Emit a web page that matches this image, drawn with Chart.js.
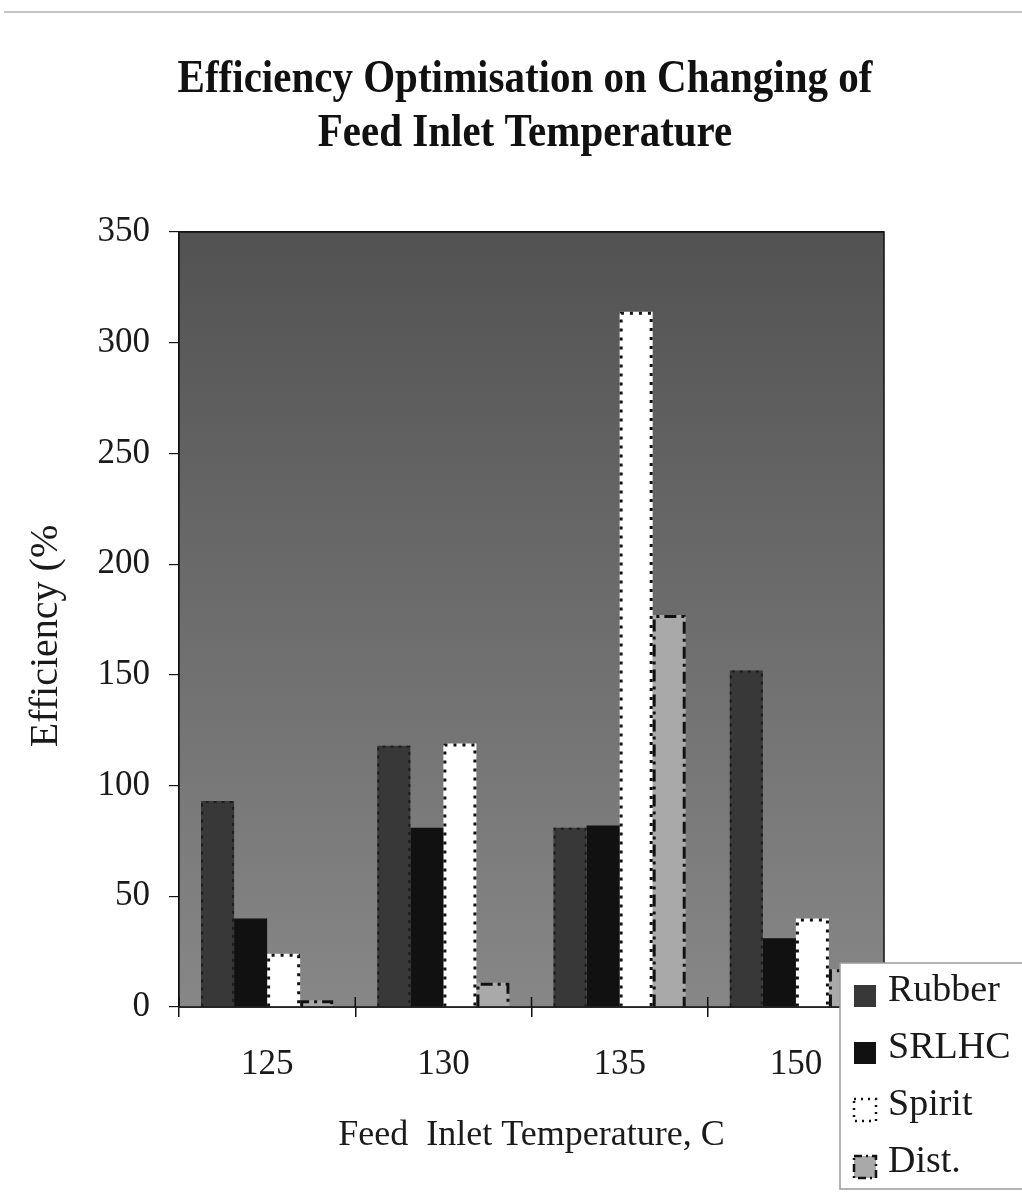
<!DOCTYPE html>
<html>
<head>
<meta charset="utf-8">
<title>Efficiency Optimisation</title>
<script src="https://cdn.jsdelivr.net/npm/chart.js@4.4.1/dist/chart.umd.min.js"></script>
<style>
    html, body {
        margin: 0;
        padding: 0;
        background: #ffffff;
    }
    #wrap {
        position: relative;
        width: 1022px;
        height: 1194px;
    }
    #topRule {
        position: absolute;
        left: 4px;
        right: 0;
        top: 11px;
        height: 0;
        border-top: 2px solid #c4c4c4;
    }
</style>
</head>
<body>
<div id="wrap">
    <div id="topRule"></div>
    <canvas id="effChart"></canvas>
</div>
<script>
const SERIF = "'Liberation Serif', 'Times New Roman', serif";

const titleLines = ["Efficiency Optimisation on Changing of", "Feed Inlet Temperature"];
const yTitle = "Efficiency (%";
const temperatures = ["125", "130", "135", "150"];
const rubber = [93, 118, 81, 152];
const srlhc = [40, 81, 82, 31];
const spirit = [24, 119, 314, 40];
const dist = [3, 11, 177, 17];

const yMax = 350;
const yStep = 50;

// heading is centred on the page, not on the plot, so it is drawn here;
// the y title sits a little below the plot's middle, so it goes here too
const pageText = {
    id: "pageText",
    afterDraw(chart) {
        const { ctx } = chart;
        ctx.save();
        ctx.fillStyle = "#111111";
        ctx.font = "bold 41px " + SERIF;
        ctx.textAlign = "center";
        ctx.textBaseline = "middle";
        titleLines.forEach((line, i) => {
            ctx.save();
            ctx.translate(525, 80 + i * 54);
            ctx.scale(1, 1.12);
            ctx.fillText(line, 0, 0);
            ctx.restore();
        });

        ctx.fillStyle = "#1a1a1a";
        ctx.font = "40px " + SERIF;
        ctx.translate(46, 636);
        ctx.rotate(-Math.PI / 2);
        ctx.fillText(yTitle, 0, 0);
        ctx.restore();
    },
};

// grey wash behind the bars, darker at the top
const plotBackground = {
    id: "plotBackground",
    beforeDatasetsDraw(chart) {
        const { ctx, chartArea: a } = chart;
        const g = ctx.createLinearGradient(0, a.top, 0, a.bottom);
        g.addColorStop(0, "#525252");
        g.addColorStop(0.5, "#6d6d6d");
        g.addColorStop(1, "#878787");
        ctx.save();
        ctx.fillStyle = g;
        ctx.fillRect(a.left, a.top, a.right - a.left, a.bottom - a.top);
        ctx.restore();
    },
};

// dotted / dash-dot outlines, bars can't do dashes on their own
const barOutlines = {
    id: "barOutlines",
    afterDatasetsDraw(chart) {
        const { ctx } = chart;
        chart.data.datasets.forEach((ds, i) => {
            if (!ds.outlineDash) return;
            const meta = chart.getDatasetMeta(i);
            ctx.save();
            ctx.strokeStyle = ds.outlineColor;
            ctx.lineWidth = ds.outlineWidth;
            ctx.setLineDash(ds.outlineDash);
            meta.data.forEach((bar) => {
                const { x, y, base, width } = bar.getProps(["x", "y", "base", "width"], true);
                const half = ds.outlineWidth / 2;
                const l = x - width / 2 + half;
                const r = x + width / 2 - half;
                ctx.beginPath();
                ctx.moveTo(l, base);
                ctx.lineTo(l, y + half);
                ctx.lineTo(r, y + half);
                ctx.lineTo(r, base);
                ctx.stroke();
            });
            ctx.restore();
        });
    },
};

// frame round the plot plus the short category ticks that poke up into it
const plotFrame = {
    id: "plotFrame",
    afterDatasetsDraw(chart) {
        const { ctx, chartArea: a } = chart;
        const xs = chart.scales.x;
        ctx.save();
        ctx.strokeStyle = "#111111";
        ctx.lineWidth = 1.5;
        ctx.strokeRect(a.left, a.top, a.right - a.left, a.bottom - a.top);
        const n = chart.data.labels.length;
        ctx.beginPath();
        for (let i = 0; i <= n; i++) {
            const px = xs.left + (i * xs.width) / n;
            ctx.moveTo(px, a.bottom);
            ctx.lineTo(px, a.bottom - 10);
        }
        ctx.stroke();
        ctx.restore();
    },
};

// legend box sitting over the bottom-right corner
const boxLegend = {
    id: "boxLegend",
    afterDraw(chart) {
        const { ctx } = chart;
        const left = 840;
        const top = 963;
        const rowH = 57;
        ctx.save();
        ctx.fillStyle = "#ffffff";
        ctx.fillRect(left, top, 200, 226);
        ctx.strokeStyle = "#9a9a9a";
        ctx.lineWidth = 1.5;
        ctx.strokeRect(left, top, 200, 226);

        ctx.font = "38px " + SERIF;
        ctx.textBaseline = "middle";
        ctx.textAlign = "left";
        chart.data.datasets.forEach((ds, i) => {
            const cy = top + 28 + i * rowH;
            const mx = left + 14;
            const my = cy - 6;
            const ms = 22;
            ctx.fillStyle = ds.backgroundColor;
            ctx.fillRect(mx, my, ms, ms);
            if (ds.outlineDash && ds.label !== "Rubber") {
                ctx.strokeStyle = ds.outlineColor;
                ctx.lineWidth = 2.5;
                ctx.setLineDash(ds.label === "Spirit" ? [2, 5] : [8, 4, 2, 4]);
                ctx.strokeRect(mx, my, ms, ms);
                ctx.setLineDash([]);
            }
            ctx.fillStyle = "#1a1a1a";
            ctx.fillText(ds.label, left + 48, cy);
        });
        ctx.restore();
    },
};

const chartCanvas = document.getElementById("effChart");

new Chart(chartCanvas, {
    type: "bar",
    data: {
        labels: temperatures,
        datasets: [
            {
                label: "Rubber",
                data: rubber,
                backgroundColor: "#383838",
                outlineColor: "#1c1c1c",
                outlineWidth: 2,
                outlineDash: [3, 5],
            },
            {
                label: "SRLHC",
                data: srlhc,
                backgroundColor: "#111111",
            },
            {
                label: "Spirit",
                data: spirit,
                backgroundColor: "#ffffff",
                outlineColor: "#111111",
                outlineWidth: 3,
                outlineDash: [3, 6],
            },
            {
                label: "Dist.",
                data: dist,
                backgroundColor: "#a9a9a9",
                outlineColor: "#111111",
                outlineWidth: 3,
                outlineDash: [12, 5, 3, 5],
            },
        ],
    },
    options: {
        responsive: true,
        maintainAspectRatio: false,
        animation: false,
        layout: {
            padding: { top: 232, left: 0, right: 138, bottom: 0 },
        },
        datasets: {
            bar: {
                categoryPercentage: 0.75,
                barPercentage: 1.0,
                borderWidth: 0,
            },
        },
        plugins: {
            legend: { display: false },
            tooltip: { enabled: false },
            title: { display: false },
        },
        scales: {
            x: {
                afterFit(scale) {
                    scale.height = 187;
                },
                grid: {
                    offset: true,
                    drawOnChartArea: false,
                    color: "#111111",
                    lineWidth: 1.5,
                    tickLength: 10,
                },
                border: { color: "#111111", width: 1.5 },
                ticks: {
                    color: "#1a1a1a",
                    padding: 27,
                    font: { family: SERIF, size: 35 },
                },
                title: {
                    display: true,
                    text: "Feed  Inlet Temperature, C",
                    color: "#1a1a1a",
                    font: { family: SERIF, size: 36 },
                    padding: { top: 0, bottom: 37 },
                },
            },
            y: {
                min: 0,
                max: yMax,
                afterFit(scale) {
                    scale.width = 179;
                },
                grid: {
                    color: "#151515",
                    lineWidth: 1.2,
                    tickLength: 10,
                },
                border: { color: "#111111", width: 1.5 },
                ticks: {
                    stepSize: yStep,
                    color: "#1a1a1a",
                    padding: 19,
                    font: { family: SERIF, size: 35 },
                },
                title: { display: false },
            },
        },
    },
    plugins: [plotBackground, barOutlines, plotFrame, pageText, boxLegend],
});
</script>
</body>
</html>
